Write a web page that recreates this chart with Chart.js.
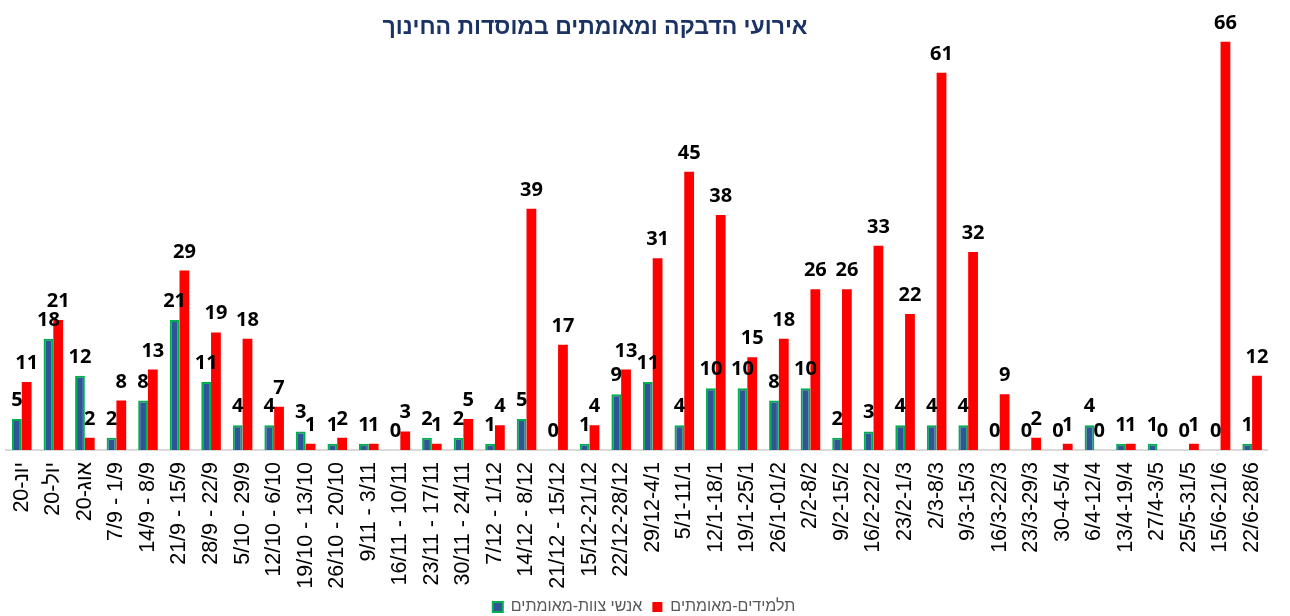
<!DOCTYPE html>
<html lang="he">
<head>
<meta charset="utf-8">
<script src="https://cdn.jsdelivr.net/npm/chart.js@4.4.1/dist/chart.umd.min.js"></script>
<style>
    html, body { margin: 0; padding: 0; background: #ffffff; }
</style>
</head>
<body>
<canvas id="infections-chart" width="1290" height="616"></canvas>
<script>
const chartTitle = 'אירועי הדבקה ומאומתים במוסדות החינוך';
const seriesNames = ['אנשי צוות-מאומתים', 'תלמידים-מאומתים'];

const weeks = [
    'יונ-20', 'יול-20', 'אוג-20',
    '7/9 - 1/9', '14/9 - 8/9', '21/9 - 15/9', '28/9 - 22/9', '5/10 - 29/9',
    '12/10 - 6/10', '19/10 - 13/10', '26/10 - 20/10', '9/11 - 3/11', '16/11 - 10/11',
    '23/11 - 17/11', '30/11 - 24/11', '7/12 - 1/12', '14/12 - 8/12', '21/12 - 15/12',
    '15/12-21/12', '22/12-28/12', '29/12-4/1', '5/1-11/1', '12/1-18/1', '19/1-25/1',
    '26/1-01/2', '2/2-8/2', '9/2-15/2', '16/2-22/2', '23/2-1/3', '2/3-8/3', '9/3-15/3',
    '16/3-22/3', '23/3-29/3', '30-4-5/4', '6/4-12/4', '13/4-19/4', '27/4-3/5',
    '25/5-31/5', '15/6-21/6', '22/6-28/6',
];

const staffCases = [
    5, 18, 12, 2, 8, 21, 11, 4, 4, 3, 1, 1, 0, 2, 2, 1, 5, 0, 1, 9,
    11, 4, 10, 10, 8, 10, 2, 3, 4, 4, 4, 0, 0, 0, 4, 1, 1, 0, 0, 1,
];

const studentCases = [
    11, 21, 2, 8, 13, 29, 19, 18, 7, 1, 2, 1, 3, 1, 5, 4, 39, 17, 4, 13,
    31, 45, 38, 15, 18, 26, 26, 33, 22, 61, 32, 9, 2, 1, 0, 1, 0, 1, 66, 12,
];

// Title sits over the plot area, so it is drawn by hand instead of the title plugin
const titlePlugin = {
    id: 'overlayTitle',
    afterDraw(chart) {
        const ctx = chart.ctx;
        ctx.save();
        ctx.font = 'bold 23px "Liberation Sans", Arial, sans-serif';
        ctx.fillStyle = '#1b3364';
        ctx.textAlign = 'center';
        ctx.textBaseline = 'middle';
        ctx.fillText(chartTitle, 595, 28);
        ctx.restore();
    }
};

const valueLabelsPlugin = {
    id: 'valueLabels',
    afterDatasetsDraw(chart) {
        const ctx = chart.ctx;
        ctx.save();
        ctx.font = 'bold 20px "Open Sans", sans-serif';
        ctx.fillStyle = '#000000';
        ctx.textAlign = 'center';
        ctx.textBaseline = 'alphabetic';
        chart.data.datasets.forEach((dataset, i) => {
            chart.getDatasetMeta(i).data.forEach((bar, j) => {
                ctx.fillText(String(dataset.data[j]), bar.x, bar.y - 13);
            });
        });
        ctx.restore();
    }
};

const context = document.getElementById('infections-chart').getContext('2d');

const infectionsChart = new Chart(context, {
    type: 'bar',
    data: {
        labels: weeks,
        datasets: [
            {
                label: seriesNames[0],
                data: staffCases,
                backgroundColor: '#2f5597',
                borderColor: '#00b050',
                borderWidth: 2,
                categoryPercentage: 0.62,
                barPercentage: 1.0,
            },
            {
                label: seriesNames[1],
                data: studentCases,
                backgroundColor: '#ff0000',
                borderWidth: 0,
                categoryPercentage: 0.62,
                barPercentage: 1.0,
            }
        ]
    },
    options: {
        responsive: false,
        animation: false,
        layout: {
            // negative bottom pushes the legend down to the canvas edge like the original
            padding: { top: 17, left: 6, right: 8, bottom: -9 }
        },
        scales: {
            x: {
                grid: { display: false, drawTicks: false },
                border: { display: true, color: '#d9d9d9', width: 2 },
                ticks: {
                    autoSkip: false,
                    maxRotation: 90,
                    minRotation: 90,
                    padding: 12,
                    color: '#000000',
                    font: {
                        family: '"Liberation Sans", Arial, sans-serif',
                        size: 21.5
                    }
                },
                afterFit: (scale) => {
                    scale.height = 139;
                }
            },
            y: {
                display: false,
                min: 0,
                max: 70
            }
        },
        plugins: {
            legend: {
                position: 'bottom',
                labels: {
                    boxWidth: 10,
                    boxHeight: 10,
                    padding: 10,
                    color: '#595959',
                    font: {
                        family: '"Liberation Sans", Arial, sans-serif',
                        size: 16
                    }
                }
            },
            tooltip: { enabled: false }
        }
    },
    plugins: [titlePlugin, valueLabelsPlugin]
});
</script>
</body>
</html>
